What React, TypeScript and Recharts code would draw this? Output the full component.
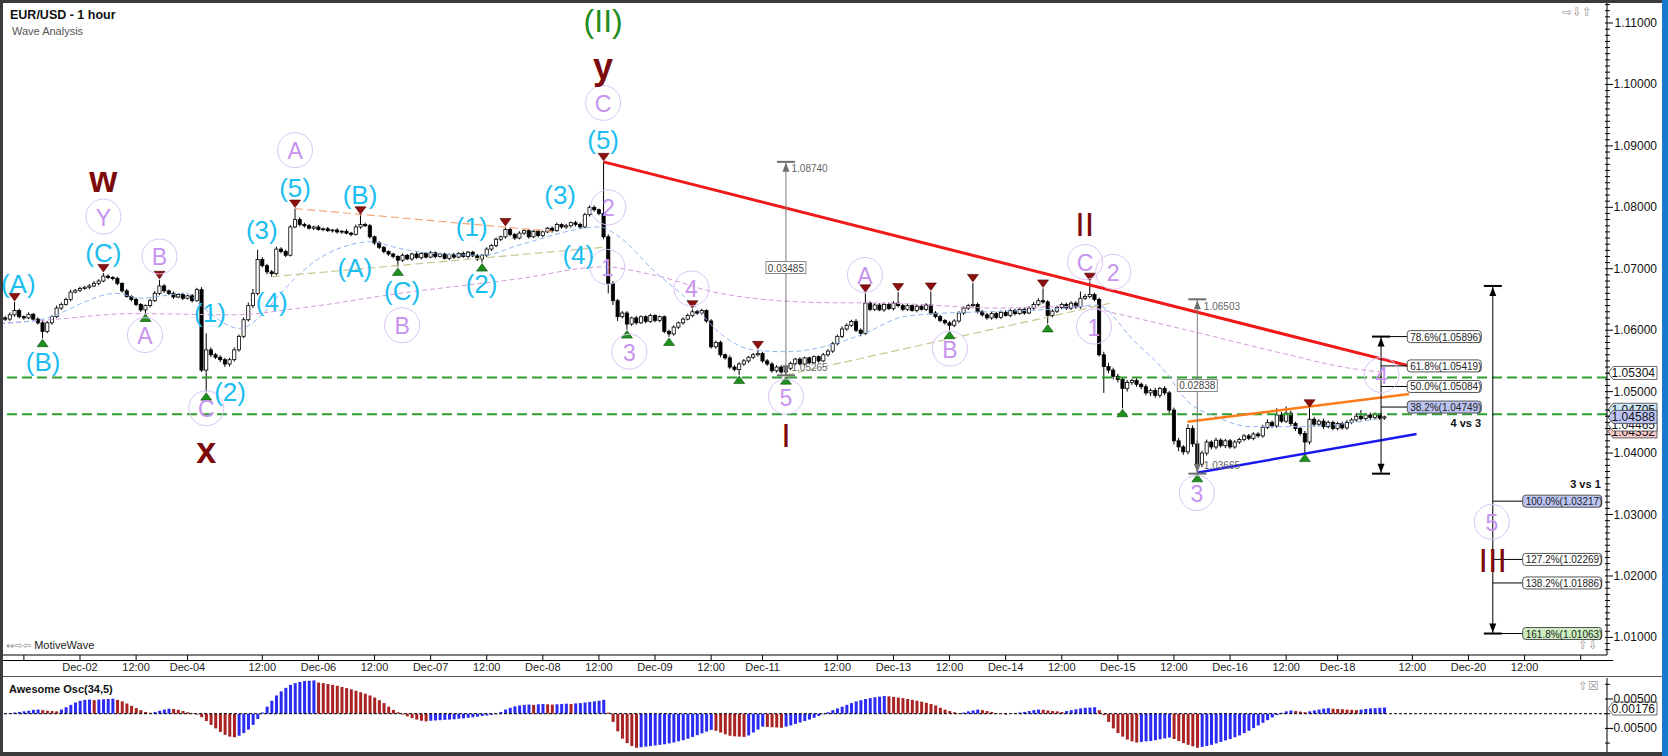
import React from "react";
import {
  ComposedChart,
  Bar,
  Line,
  Scatter,
  XAxis,
  YAxis,
  ReferenceLine,
  Cell,
} from "recharts";

const FONT = '"Liberation Sans", Arial, sans-serif';

// hourly candles, hours counted from Dec-02 00:00 (weekend hours skipped)
const FIRST_HOUR = -16;
const FIRST_OPEN = 620;

// closes in pips above 1.0000
const closes = [
  618, 625, 632, 622, 620, 626, 618, 612, 598, 612, 622, 636,
  642, 650, 662, 665, 668, 670, 672, 676, 680, 688, 686, 684,
  676, 664, 655, 650, 642, 633, 640, 648, 660, 672, 664, 660,
  654, 658, 652, 656, 648, 666, 535, 568, 560, 556, 552, 545,
  552, 568, 590, 617, 640, 660, 715, 705, 695, 692, 732, 728,
  722, 768, 780, 772, 770, 766, 768, 764, 765, 762, 763, 760,
  761, 758, 756, 768, 772, 770, 752, 742, 735, 728, 724, 720,
  714, 722, 716, 724, 718, 725, 719, 726, 720, 724, 717, 723,
  719, 725, 720, 727, 721, 716, 722, 732, 738, 748, 752, 764,
  756, 750, 758, 762, 752, 761, 754, 760, 766, 762, 772, 768,
  770, 775, 772, 768, 788, 800, 796, 790, 752, 676, 648, 622,
  628, 610, 620, 612, 622, 614, 624, 616, 622, 598, 594, 605,
  612, 618, 624, 630, 628, 632, 615, 573, 580, 560, 555, 540,
  536, 545, 550, 556, 560, 562, 550, 545, 534, 540, 532, 538,
  546, 553, 545, 555, 547, 557, 550, 560, 566, 578, 590, 602,
  608, 614, 600, 595, 644, 634, 641, 633, 642, 635, 644, 640,
  634, 640, 632, 639, 634, 641, 628, 622, 616, 612, 608, 615,
  628, 636, 640, 642, 630, 625, 620, 627, 621, 629, 624, 632,
  627, 634, 628, 636, 642, 648, 646, 624, 631, 637, 642, 636,
  644, 638, 652, 655, 658, 650, 560, 541, 535, 525, 520, 505,
  515, 518, 512, 508, 498, 502, 494, 505, 498, 470, 420, 410,
  402, 440, 415, 382, 400, 418, 410, 421, 412, 420, 410, 418,
  422, 428, 424, 431, 428, 442, 450, 444, 462, 452, 465, 448,
  440, 432, 418, 455, 447, 452, 443, 450, 440, 448, 441, 450,
  454, 460, 456, 462, 458, 463, 457, 459,
];

// wick above the body, pips
const wickUp = [
  3, 4, 14, 3, 2, 3, 2, 3, 4, 3, 2, 4,
  3, 3, 4, 2, 3, 2, 3, 4, 3, 5, 3, 2,
  3, 2, 3, 2, 3, 2, 2, 3, 4, 10, 3, 2,
  3, 2, 3, 2, 3, 3, 4, 27, 4, 3, 3, 3,
  3, 4, 3, 4, 5, 7, 16, 4, 3, 3, 4, 3,
  3, 3, 18, 4, 3, 3, 2, 3, 2, 3, 2, 3,
  2, 3, 2, 4, 15, 3, 3, 2, 3, 2, 2, 2,
  2, 3, 2, 2, 3, 2, 2, 3, 2, 2, 2, 2,
  3, 2, 3, 2, 2, 3, 2, 3, 2, 3, 2, 4,
  3, 2, 3, 2, 3, 2, 3, 2, 2, 3, 3, 2,
  3, 2, 3, 3, 3, 3, 3, 2, 84, 4, 4, 3,
  3, 3, 2, 3, 2, 2, 3, 2, 2, 2, 3, 3,
  2, 3, 3, 4, 3, 3, 2, 3, 3, 3, 2, 4,
  3, 3, 3, 2, 3, 6, 3, 3, 3, 3, 3, 3,
  3, 2, 3, 2, 2, 2, 2, 3, 3, 3, 3, 4,
  3, 3, 4, 3, 16, 3, 3, 3, 3, 3, 3, 18,
  3, 3, 2, 3, 2, 3, 22, 3, 3, 2, 3, 3,
  3, 3, 3, 35, 3, 3, 3, 3, 3, 3, 3, 3,
  3, 2, 3, 3, 4, 4, 20, 3, 3, 3, 3, 3,
  3, 3, 11, 4, 21, 3, 3, 5, 6, 4, 4, 3,
  4, 3, 4, 3, 4, 3, 4, 3, 4, 3, 4, 5,
  3, 7, 5, 6, 4, 4, 3, 4, 3, 3, 3, 3,
  3, 3, 3, 3, 3, 4, 5, 3, 11, 5, 11, 4,
  3, 3, 4, 18, 4, 3, 4, 3, 3, 3, 3, 4,
  3, 5, 10, 3, 4, 3, 2, 2,
];

// wick below the body, pips
const wickDown = [
  3, 3, 3, 3, 3, 2, 3, 3, 11, 3, 3, 2,
  3, 2, 3, 2, 3, 2, 3, 2, 3, 2, 3, 3,
  3, 3, 2, 3, 3, 3, 5, 3, 2, 3, 3, 3,
  3, 2, 3, 2, 3, 2, 3, 35, 4, 3, 4, 5,
  4, 3, 3, 3, 3, 4, 3, 3, 4, 5, 3, 3,
  3, 2, 2, 3, 3, 2, 3, 2, 3, 2, 3, 3,
  3, 2, 3, 2, 3, 2, 3, 3, 3, 3, 3, 3,
  11, 3, 2, 3, 2, 3, 2, 2, 3, 2, 2, 3,
  3, 2, 2, 3, 2, 3, 6, 3, 3, 3, 3, 3,
  3, 3, 2, 3, 3, 2, 3, 3, 2, 3, 2, 3,
  3, 3, 3, 3, 2, 3, 3, 3, 4, 16, 7, 7,
  3, 9, 3, 3, 2, 3, 2, 3, 3, 3, 5, 3,
  3, 3, 2, 3, 3, 3, 3, 3, 3, 4, 3, 3,
  3, 9, 3, 3, 3, 3, 3, 3, 3, 3, 3, 6,
  3, 3, 2, 3, 3, 2, 3, 2, 3, 3, 3, 3,
  3, 3, 3, 5, 3, 3, 3, 2, 3, 2, 3, 3,
  3, 3, 2, 3, 2, 3, 3, 3, 3, 3, 8, 3,
  3, 3, 3, 3, 3, 3, 3, 3, 3, 3, 2, 3,
  3, 2, 3, 2, 3, 3, 3, 13, 3, 3, 3, 3,
  3, 3, 3, 3, 3, 3, 3, 43, 5, 5, 5, 32,
  5, 4, 4, 4, 4, 5, 4, 4, 4, 5, 6, 7,
  5, 4, 5, 15, 5, 4, 4, 4, 3, 4, 3, 3,
  3, 3, 3, 3, 3, 3, 3, 3, 3, 3, 3, 4,
  4, 4, 18, 4, 4, 3, 4, 3, 3, 3, 3, 3,
  3, 3, 3, 3, 4, 3, 3, 3,
];

// Awesome Oscillator (34,5), units of 0.0001
const aoValues = [
  -2, 2, 4, 6, 8, 10, 13, 14, 12, 10, 9, 8,
  14, 22, 30, 38, 44, 47, 48, 46, 48, 49, 50, 51,
  47, 42, 35, 27, 19, 12, 6, 3, 6, 10, 14, 17,
  16, 13, 9, 5, 2, -3, -12, -25, -38, -50, -62, -72,
  -78, -80, -75, -66, -54, -38, -18, 4, 24, 44, 62, 76,
  88, 98, 104, 108, 111, 112, 113, 106, 104, 101, 98, 95,
  91, 87, 83, 78, 73, 68, 62, 55, 46, 36, 24, 13,
  5, -3, -9, -15, -20, -24, -26, -24, -23, -22, -21, -20,
  -19, -17, -16, -14, -12, -10, -8, -6, -4, -2, 6, 14,
  20, 25, 28, 30, 31, 30, 32, 33, 32, 31, 32, 33,
  34, 33, 35, 36, 38, 40, 42, 44, 47, 4, -28, -60,
  -85, -100, -110, -116, -114, -112, -110, -108, -106, -104, -101, -98,
  -94, -90, -85, -79, -73, -67, -61, -55, -58, -64, -70, -75,
  -77, -78, -79, -74, -64, -54, -44, -45, -46, -47, -48, -44,
  -40, -35, -30, -25, -20, -14, -8, -2, 5, 12, 18, 24,
  30, 36, 42, 46, 50, 53, 56, 58, 60, 59, 57, 55,
  53, 50, 47, 44, 41, 37, 33, 28, 20, 14, 9, 5,
  2, 4, 8, 11, 14, 12, 9, 6, 2, -1, -3, 0,
  2, 4, 6, 9, 12, 14, 13, 11, 9, 8, 6, 9,
  12, 15, 18, 20, 21, 22, 12, -5, -28, -50, -66, -78,
  -88, -94, -98, -96, -94, -93, -90, -87, -84, -81, -86, -93,
  -100, -106, -111, -116, -113, -110, -106, -101, -96, -91, -86, -80,
  -74, -66, -58, -49, -40, -31, -22, -13, -5, 3, 8, 11,
  9, 7, 5, 8, 11, 14, 17, 19, 17, 16, 15, 14,
  13, 12, 14, 16, 18, 19, 20, 21,
];

const timeTicks = [-12, 0, 12, 23, 39, 51, 63, 75, 87, 99, 111, 123, 135, 146, 162, 174, 186, 198, 210, 222, 234, 246, 258, 269, 285, 297, 309, 321];
const timeLabels = ["", "Dec-02", "12:00", "Dec-04", "12:00", "Dec-06", "12:00", "Dec-07", "12:00", "Dec-08", "12:00", "Dec-09", "12:00", "Dec-11", "12:00", "Dec-13", "12:00", "Dec-14", "12:00", "Dec-15", "12:00", "Dec-16", "12:00", "Dec-18", "12:00", "Dec-20", "12:00", ""];
const majorPriceTicks = [1.01, 1.02, 1.03, 1.04, 1.05, 1.06, 1.07, 1.08, 1.09, 1.1, 1.11];
const aoTicks = [-0.01, -0.005, 0, 0.005, 0.01];
const aoTickLabels = [-0.005, 0.005];

// swing markers (hours)
const pivotHighHours = [-14, 5, 17, 46, 60, 91, 112, 131, 145, 168, 175, 182, 191, 206, 216, 263];
const pivotLowHours = [-8, 14, 27, 68, 86, 117, 126, 141, 151, 186, 207, 223, 239, 262];

// moving averages [hour, pips]
const fastAverage = [[-17.1, 611], [-8.6, 617], [7.9, 660], [12.8, 652], [22.8, 660], [25.7, 641], [34.2, 603], [38.5, 622], [43.5, 665], [50.6, 714], [57.8, 739], [62, 744], [68.4, 733], [75.6, 725], [86.3, 722], [94.1, 739], [111.2, 768], [114.8, 755], [122.6, 698], [131.2, 641], [136.9, 595], [144, 568], [151.2, 565], [161.9, 579], [167.9, 595], [176.1, 622], [183.2, 627], [193.9, 630], [205.3, 633], [211, 636], [217.5, 641], [225.3, 584], [232.4, 530], [236.7, 486], [243.1, 459], [250.3, 443], [261, 443], [268.1, 446], [278.1, 456]];
const slowAverage = [[-17.1, 611], [-6.4, 617], [11.4, 627], [32.8, 625], [47.1, 636], [68.4, 660], [94.1, 684], [111.9, 703], [122.6, 690], [136.9, 660], [158.3, 645], [172.6, 644], [196.8, 636], [214.6, 639], [221.7, 627], [239.6, 595], [257.4, 562], [271.7, 538], [278.4, 532]];

// drawn lines [hour, pips]
const resistanceLine = [[112, 874], [284.3, 542]];
const wedgeTop = [[236.9, 451], [284.3, 496]];
const wedgeBottom = [[238.9, 368], [285.9, 431]];
const channelLines = [[[41, 687], [112, 735]], [[151, 527], [221, 645]]];
const upperDashedLine = [[46, 798], [101, 761]];
const supportLevels = [1.0523, 1.0463];

// wave labels [hour, pips]
const minorWaves = [
  { t: -13.2, p: 676, text: "(A)" }, { t: -7.9, p: 549, text: "(B)" }, { t: 5, p: 725, text: "(C)" },
  { t: 27.8, p: 628, text: "(1)" }, { t: 32.1, p: 500, text: "(2)" }, { t: 38.9, p: 763, text: "(3)" },
  { t: 41, p: 646, text: "(4)" }, { t: 46, p: 831, text: "(5)" }, { t: 59.9, p: 820, text: "(B)" },
  { t: 58.8, p: 701, text: "(A)" }, { t: 68.9, p: 663, text: "(C)" }, { t: 83.8, p: 768, text: "(1)" },
  { t: 85.9, p: 676, text: "(2)" }, { t: 102.7, p: 820, text: "(3)" }, { t: 106.6, p: 722, text: "(4)" },
  { t: 111.9, p: 910, text: "(5)" },
];
const circledWaves = [
  { t: 5, p: 785, text: "Y" }, { t: 17, p: 720, text: "B" }, { t: 13.9, p: 592, text: "A" },
  { t: 27, p: 473, text: "C" }, { t: 46, p: 893, text: "A" }, { t: 68.9, p: 608, text: "B" },
  { t: 111.9, p: 970, text: "C" }, { t: 113, p: 800, text: "2" }, { t: 112.8, p: 703, text: "1" },
  { t: 117.5, p: 565, text: "3" }, { t: 130.8, p: 668, text: "4" }, { t: 151, p: 492, text: "5" },
  { t: 167.9, p: 690, text: "A" }, { t: 186.1, p: 570, text: "B" }, { t: 215, p: 711, text: "C" },
  { t: 221, p: 695, text: "2" }, { t: 216.9, p: 606, text: "1" }, { t: 238.9, p: 335, text: "3" },
  { t: 278.4, p: 527, text: "4" }, { t: 302, p: 288, text: "5" },
];
const intermediateWaves = [
  { t: 5, p: 846, text: "w" }, { t: 27, p: 405, text: "x" }, { t: 111.9, p: 1030, text: "y" },
];
const primaryWaves = [
  { t: 151, p: 429, text: "I" }, { t: 214.9, p: 773, text: "II" }, { t: 302.2, p: 226, text: "III" },
];
const cycleWaves = [{ t: 111.9, p: 1103, text: "(II)" }];

// measuring tools
const gauges = [
  { t: 151, top: 1.0874, bottom: 1.05265 },
  { t: 239, top: 1.06503, bottom: 1.03665 },
];
const gaugeTexts = [
  { t: 152.2, p: 1.0863, text: "1.08740" }, { t: 152.2, p: 1.054, text: "1.05265" },
  { t: 240.4, p: 1.0638, text: "1.06503" }, { t: 240.4, p: 1.0379, text: "1.03665" },
];
const gaugeBoxes = [
  { t: 151, p: 1.0702, text: "0.03485" },
  { t: 239, p: 1.051, text: "0.02838" },
];
const fibTools = [
  { t: 278.3, labelT: 283.9, top: 1.05896, bottom: 1.03665 },
  { t: 302.2, labelT: 308.6, top: 1.0672, bottom: 1.01063 },
];
const fibLevels = [
  { tool: 0, p: 1.05896, text: "78.6%(1.05896)", tone: "plain" },
  { tool: 0, p: 1.05419, text: "61.8%(1.05419)", tone: "plain" },
  { tool: 0, p: 1.05084, text: "50.0%(1.05084)", tone: "plain" },
  { tool: 0, p: 1.04749, text: "38.2%(1.04749)", tone: "blue" },
  { tool: 1, p: 1.03217, text: "100.0%(1.03217)", tone: "blue" },
  { tool: 1, p: 1.02269, text: "127.2%(1.02269)", tone: "plain" },
  { tool: 1, p: 1.01886, text: "138.2%(1.01886)", tone: "plain" },
  { tool: 1, p: 1.01063, text: "161.8%(1.01063)", tone: "green" },
];
const ratioNotes = [
  { t: 299.7, p: 1.04495, text: "4 vs 3" },
  { t: 325.3, p: 1.03497, text: "3 vs 1" },
];
const axisTags = [
  { value: 1.05304, text: "1.05304", tone: "plain" },
  { value: 1.04705, text: "1.04705", tone: "sky" },
  { value: 1.04352, text: "1.04352", tone: "pink" },
  { value: 1.04465, text: "1.04465", tone: "plain" },
  { value: 1.04588, text: "1.04588", tone: "blue" },
];
const aoLast = { value: 0.00176, text: "0.00176" };

const TONES: Record<string, string> = {
  plain: "#ffffff",
  blue: "#bcc4f3",
  green: "#cdeec0",
  sky: "#cde6f6",
  pink: "#f5c9c9",
};

const X_DOMAIN: [number, number] = [-16.47, 326.63];
const PRICE_DOMAIN: [number, number] = [1.007135, 1.113255];
const AO_DOMAIN: [number, number] = [-0.01303, 0.01214];

const price = (pips: number) => 1 + pips / 10000;
const toPoints = (pts: number[][]) => pts.map(([t, p]) => ({ t, p: price(p) }));
const withPrice = (rows: { t: number; p: number; text: string }[]) =>
  rows.map((r) => ({ ...r, p: price(r.p) }));

const candles = closes.map((c, i) => {
  const o = i === 0 ? FIRST_OPEN : closes[i - 1];
  const hi = Math.max(o, c) + wickUp[i];
  const lo = Math.min(o, c) - wickDown[i];
  return {
    t: FIRST_HOUR + i,
    open: price(o),
    close: price(c),
    high: price(hi),
    low: price(lo),
    range: [price(lo), price(hi)],
  };
});

const aoData = aoValues.map((v, i) => ({
  t: FIRST_HOUR + i,
  ao: v / 10000,
  rising: i === 0 || v > aoValues[i - 1],
}));

const highMarks = pivotHighHours.map((h) => ({ t: h, p: candles[h - FIRST_HOUR].high }));
const lowMarks = pivotLowHours.map((h) => ({ t: h, p: candles[h - FIRST_HOUR].low }));

const minorPriceTicks = Array.from({ length: 106 }, (_, i) => Math.round((1.008 + i * 0.001) * 1000) / 1000);

function Candle(props: any) {
  const { x, y, width, height, payload } = props;
  if (!payload) return null;
  const cx = x + width / 2;
  const top = Math.min(y, y + height);
  const h = Math.abs(height);
  const span = payload.high - payload.low || 1e-9;
  const toY = (v: number) => top + ((payload.high - v) / span) * h;
  const bodyTop = toY(Math.max(payload.open, payload.close));
  const bodyBottom = toY(Math.min(payload.open, payload.close));
  const bull = payload.close >= payload.open;
  return (
    <g>
      <line x1={cx} x2={cx} y1={top} y2={top + h} stroke="#000" strokeWidth={1} />
      <rect
        x={cx - 1.6}
        y={bodyTop}
        width={3.2}
        height={Math.max(bodyBottom - bodyTop, 0.8)}
        fill={bull ? "#ffffff" : "#000000"}
        stroke="#000"
        strokeWidth={0.8}
      />
    </g>
  );
}

const PeakMark = (p: any) => (
  <path d={`M${p.cx} ${p.cy - 1} L${p.cx - 5.5} ${p.cy - 8.5} L${p.cx + 5.5} ${p.cy - 8.5} Z`} fill="#8c1010" stroke="#4a0000" strokeWidth={0.6} />
);
const TroughMark = (p: any) => (
  <path d={`M${p.cx} ${p.cy + 1} L${p.cx - 5.5} ${p.cy + 8.5} L${p.cx + 5.5} ${p.cy + 8.5} Z`} fill="#1f8f1f" stroke="#0a4a0a" strokeWidth={0.6} />
);

const MinorWave = (p: any) => (
  <text x={p.cx} y={p.cy} textAnchor="middle" dominantBaseline="central" fontSize={26} fill="#1cbdf0" fontFamily={FONT}>
    {p.payload.text}
  </text>
);
const CircledWave = (p: any) => (
  <g>
    <circle cx={p.cx} cy={p.cy} r={17.5} fill="none" stroke="#dcc3f7" strokeWidth={1} />
    <text x={p.cx} y={p.cy + 1} textAnchor="middle" dominantBaseline="central" fontSize={23} fill="#c693ef" fontFamily={FONT}>
      {p.payload.text}
    </text>
  </g>
);
const IntermediateWave = (p: any) => (
  <text x={p.cx} y={p.cy} textAnchor="middle" dominantBaseline="central" fontSize={36} fontWeight="bold" fill="#7d0a0a" fontFamily={FONT}>
    {p.payload.text}
  </text>
);
const PrimaryWave = (p: any) => (
  <text x={p.cx} y={p.cy} textAnchor="middle" dominantBaseline="central" fontSize={34} fill="#7d0a0a" fontFamily={FONT}>
    {p.payload.text}
  </text>
);
const CycleWave = (p: any) => (
  <text x={p.cx} y={p.cy} textAnchor="middle" dominantBaseline="central" fontSize={32} fill="#1f8c1f" fontFamily={FONT}>
    {p.payload.text}
  </text>
);

const makeCap = (color: string) => (p: any) => {
  const dir = p.payload.end === "top" ? 1 : -1;
  return (
    <g>
      <line x1={p.cx - 9} x2={p.cx + 9} y1={p.cy} y2={p.cy} stroke={color} strokeWidth={2} />
      <path d={`M${p.cx} ${p.cy + dir} L${p.cx - 3.5} ${p.cy + dir * 10} L${p.cx + 3.5} ${p.cy + dir * 10} Z`} fill={color} />
    </g>
  );
};
const GaugeCap = makeCap("#6f6f6f");
const FibCap = makeCap("#000000");

const GaugeText = (p: any) => (
  <text x={p.cx} y={p.cy} dominantBaseline="central" fontSize={10} fill="#666" fontFamily={FONT}>
    {p.payload.text}
  </text>
);
const GaugeBox = (p: any) => (
  <g>
    <rect x={p.cx - 20} y={p.cy - 6} width={40} height={12} fill="#fff" stroke="#8a8a8a" strokeWidth={1} />
    <text x={p.cx} y={p.cy + 0.5} textAnchor="middle" dominantBaseline="central" fontSize={10} fill="#444" fontFamily={FONT}>
      {p.payload.text}
    </text>
  </g>
);
const FibLabel = (p: any) => {
  const w = p.payload.text.length * 5 + 4;
  return (
    <g>
      <rect x={p.cx} y={p.cy - 6} width={w} height={12} rx={3} fill={TONES[p.payload.tone]} stroke="#555" strokeWidth={1} />
      <text x={p.cx + 3} y={p.cy + 0.5} dominantBaseline="central" fontSize={10} fill="#222" fontFamily={FONT}>
        {p.payload.text}
      </text>
    </g>
  );
};
const RatioNote = (p: any) => (
  <text x={p.cx} y={p.cy} textAnchor="end" dominantBaseline="central" fontSize={11} fontWeight="bold" fill="#111" fontFamily={FONT}>
    {p.payload.text}
  </text>
);

function ValueTag({ viewBox, text, fill }: any) {
  if (!viewBox) return null;
  const x = viewBox.x + viewBox.width;
  const y = viewBox.y;
  return (
    <g>
      <path
        d={`M${x + 1} ${y} L${x + 6} ${y - 6.5} L${x + 50} ${y - 6.5} L${x + 50} ${y + 6.5} L${x + 6} ${y + 6.5} Z`}
        fill={fill}
        stroke="#444"
        strokeWidth={0.8}
      />
      <text x={x + 48} y={y + 0.5} textAnchor="end" dominantBaseline="central" fontSize={12} fill="#111" fontFamily={FONT}>
        {text}
      </text>
    </g>
  );
}

const renderPriceTick = (props: any) => {
  const { x, y, payload } = props;
  const v: number = payload.value;
  const major = majorPriceTicks.some((m) => Math.abs(m - v) < 1e-7);
  return (
    <g>
      <line x1={x - 2} x2={x + (major ? 6 : 3)} y1={y} y2={y} stroke="#000" strokeWidth={1} />
      {major && (
        <text x={x + 50} y={y} textAnchor="end" dominantBaseline="central" fontSize={12} fill="#111" fontFamily={FONT}>
          {v.toFixed(5)}
        </text>
      )}
    </g>
  );
};

const renderAoTick = (props: any) => {
  const { x, y, payload } = props;
  const v: number = payload.value;
  const labelled = aoTickLabels.some((m) => Math.abs(m - v) < 1e-9);
  return (
    <g>
      <line x1={x - 2} x2={x + (labelled ? 6 : 3)} y1={y} y2={y} stroke="#000" strokeWidth={1} />
      {labelled && (
        <text x={x + 50} y={y} textAnchor="end" dominantBaseline="central" fontSize={12} fill="#111" fontFamily={FONT}>
          {v.toFixed(5)}
        </text>
      )}
    </g>
  );
};

const timeLabel = (v: number) => {
  const i = timeTicks.indexOf(v);
  return i >= 0 ? timeLabels[i] : "";
};

const abs = (left: number, top: number, extra: React.CSSProperties = {}): React.CSSProperties => ({
  position: "absolute",
  left,
  top,
  ...extra,
});

export default function App() {
  return (
    <div style={{ position: "absolute", left: 0, top: 0, width: 1668, height: 756, background: "#fff", overflow: "hidden", fontFamily: FONT }}>
      <div style={abs(0, 0)}>
        <ComposedChart width={1668} height={677} data={candles} margin={{ top: 3, right: 0, bottom: 0, left: 3 }}>
          <XAxis
            dataKey="t"
            type="number"
            domain={X_DOMAIN}
            allowDataOverflow
            ticks={timeTicks}
            interval={0}
            tickFormatter={timeLabel}
            tick={{ fontSize: 11, fill: "#222" }}
            tickSize={5}
            tickMargin={3}
            axisLine={{ stroke: "#000" }}
            tickLine={{ stroke: "#000" }}
            height={22}
          />
          <YAxis
            orientation="right"
            type="number"
            domain={PRICE_DOMAIN}
            allowDataOverflow
            ticks={minorPriceTicks}
            interval={0}
            width={61}
            tickSize={0}
            tickMargin={0}
            tickLine={false}
            axisLine={{ stroke: "#000" }}
            tick={renderPriceTick}
          />

          {supportLevels.map((v) => (
            <ReferenceLine key={v} y={v} stroke="#2f9e2f" strokeWidth={2} strokeDasharray="10 5" />
          ))}

          <Line data={toPoints(slowAverage)} dataKey="p" type="monotone" stroke="#d39bd8" strokeWidth={1} strokeDasharray="5 3" dot={false} isAnimationActive={false} />
          <Line data={toPoints(fastAverage)} dataKey="p" type="monotone" stroke="#93b5f2" strokeWidth={1} strokeDasharray="5 3" dot={false} isAnimationActive={false} />
          {channelLines.map((seg, i) => (
            <Line key={`ch${i}`} data={toPoints(seg)} dataKey="p" type="linear" stroke="#c9c690" strokeWidth={1.2} strokeDasharray="8 4" dot={false} isAnimationActive={false} />
          ))}
          <Line data={toPoints(upperDashedLine)} dataKey="p" type="linear" stroke="#f5a77c" strokeWidth={1.2} strokeDasharray="8 4" dot={false} isAnimationActive={false} />

          <Bar dataKey="range" barSize={4} shape={Candle} isAnimationActive={false} />

          <Line data={toPoints(resistanceLine)} dataKey="p" type="linear" stroke="#f01818" strokeWidth={3} dot={false} isAnimationActive={false} />
          <Line data={toPoints(wedgeTop)} dataKey="p" type="linear" stroke="#ff7a18" strokeWidth={2.5} dot={false} isAnimationActive={false} />
          <Line data={toPoints(wedgeBottom)} dataKey="p" type="linear" stroke="#1a1af0" strokeWidth={2.5} dot={false} isAnimationActive={false} />

          {gauges.map((g, i) => (
            <Line key={`g${i}`} data={[{ t: g.t, p: g.top }, { t: g.t, p: g.bottom }]} dataKey="p" type="linear" stroke="#7a7a7a" strokeWidth={1} dot={false} isAnimationActive={false} />
          ))}
          <Scatter
            data={gauges.flatMap((g) => [{ t: g.t, p: g.top, end: "top" }, { t: g.t, p: g.bottom, end: "bottom" }])}
            dataKey="p"
            shape={GaugeCap}
            isAnimationActive={false}
          />
          <Scatter data={gaugeTexts} dataKey="p" shape={GaugeText} isAnimationActive={false} />
          <Scatter data={gaugeBoxes} dataKey="p" shape={GaugeBox} isAnimationActive={false} />

          {fibTools.map((f, i) => (
            <Line key={`f${i}`} data={[{ t: f.t, p: f.top }, { t: f.t, p: f.bottom }]} dataKey="p" type="linear" stroke="#000" strokeWidth={1} dot={false} isAnimationActive={false} />
          ))}
          {fibLevels.map((l, i) => (
            <Line
              key={`fl${i}`}
              data={[{ t: fibTools[l.tool].t, p: l.p }, { t: fibTools[l.tool].labelT, p: l.p }]}
              dataKey="p"
              type="linear"
              stroke="#000"
              strokeWidth={1}
              dot={false}
              isAnimationActive={false}
            />
          ))}
          <Scatter
            data={fibTools.flatMap((f) => [{ t: f.t, p: f.top, end: "top" }, { t: f.t, p: f.bottom, end: "bottom" }])}
            dataKey="p"
            shape={FibCap}
            isAnimationActive={false}
          />
          <Scatter data={fibLevels.map((l) => ({ ...l, t: fibTools[l.tool].labelT }))} dataKey="p" shape={FibLabel} isAnimationActive={false} />
          <Scatter data={ratioNotes} dataKey="p" shape={RatioNote} isAnimationActive={false} />

          <Scatter data={highMarks} dataKey="p" shape={PeakMark} isAnimationActive={false} />
          <Scatter data={lowMarks} dataKey="p" shape={TroughMark} isAnimationActive={false} />
          <Scatter data={withPrice(circledWaves)} dataKey="p" shape={CircledWave} isAnimationActive={false} />
          <Scatter data={withPrice(minorWaves)} dataKey="p" shape={MinorWave} isAnimationActive={false} />
          <Scatter data={withPrice(intermediateWaves)} dataKey="p" shape={IntermediateWave} isAnimationActive={false} />
          <Scatter data={withPrice(primaryWaves)} dataKey="p" shape={PrimaryWave} isAnimationActive={false} />
          <Scatter data={withPrice(cycleWaves)} dataKey="p" shape={CycleWave} isAnimationActive={false} />

          {axisTags.map((tag) => (
            <ReferenceLine
              key={tag.text}
              y={tag.value}
              stroke="none"
              label={(props: any) => <ValueTag viewBox={props.viewBox} text={tag.text} fill={TONES[tag.tone]} />}
            />
          ))}
        </ComposedChart>
      </div>

      <div style={abs(0, 676)}>
        <ComposedChart width={1668} height={80} data={aoData} margin={{ top: 2, right: 0, bottom: 4, left: 3 }}>
          <XAxis dataKey="t" type="number" domain={X_DOMAIN} allowDataOverflow hide />
          <YAxis
            orientation="right"
            type="number"
            domain={AO_DOMAIN}
            allowDataOverflow
            ticks={aoTicks}
            interval={0}
            width={61}
            tickSize={0}
            tickMargin={0}
            tickLine={false}
            axisLine={{ stroke: "#000" }}
            tick={renderAoTick}
          />
          <ReferenceLine y={0} stroke="#000" strokeDasharray="3 2" />
          <Bar dataKey="ao" barSize={3} isAnimationActive={false}>
            {aoData.map((d) => (
              <Cell key={d.t} fill={d.rising ? "#2b2bf3" : "#a92323"} />
            ))}
          </Bar>
          <ReferenceLine
            y={aoLast.value}
            stroke="none"
            label={(props: any) => <ValueTag viewBox={props.viewBox} text={aoLast.text} fill="#ffffff" />}
          />
        </ComposedChart>
      </div>

      {/* frame */}
      <div style={abs(0, 0, { width: 1668, height: 3, background: "#3b3b3b" })} />
      <div style={abs(0, 0, { width: 3, height: 756, background: "#3b3b3b" })} />
      <div style={abs(0, 752, { width: 1668, height: 4, background: "#3b3b3b" })} />
      <div style={abs(1662, 0, { width: 6, height: 756, background: "#1b78d0" })} />
      <div style={abs(3, 660, { width: 1610, height: 1, background: "#000" })} />
      <div style={abs(3, 675.5, { width: 1659, height: 1.5, background: "#555" })} />

      {/* texts */}
      <div style={abs(10, 8, { fontSize: 12.5, fontWeight: "bold", color: "#111", whiteSpace: "nowrap" })}>EUR/USD - 1 hour</div>
      <div style={abs(12, 25, { fontSize: 11, color: "#555", whiteSpace: "nowrap" })}>Wave Analysis</div>
      <div style={abs(6, 639, { fontSize: 11, color: "#222", whiteSpace: "nowrap" })}>
        <span style={{ fontFamily: "DejaVu Sans", color: "#888", fontSize: 10 }}>⇔⇨⇦</span> MotiveWave
      </div>
      <div style={abs(9, 683, { fontSize: 11, fontWeight: "bold", color: "#111", whiteSpace: "nowrap" })}>Awesome Osc(34,5)</div>
      <div style={abs(1562, 5, { fontSize: 12, color: "#999", fontFamily: "DejaVu Sans", whiteSpace: "nowrap" })}>⇨⇩⇧</div>
      <div style={abs(1578, 638, { fontSize: 12, color: "#999", fontFamily: "DejaVu Sans", whiteSpace: "nowrap" })}>⇧⇩</div>
      <div style={abs(1578, 679, { fontSize: 12, color: "#999", fontFamily: "DejaVu Sans", whiteSpace: "nowrap" })}>⇧☒</div>
    </div>
  );
}
